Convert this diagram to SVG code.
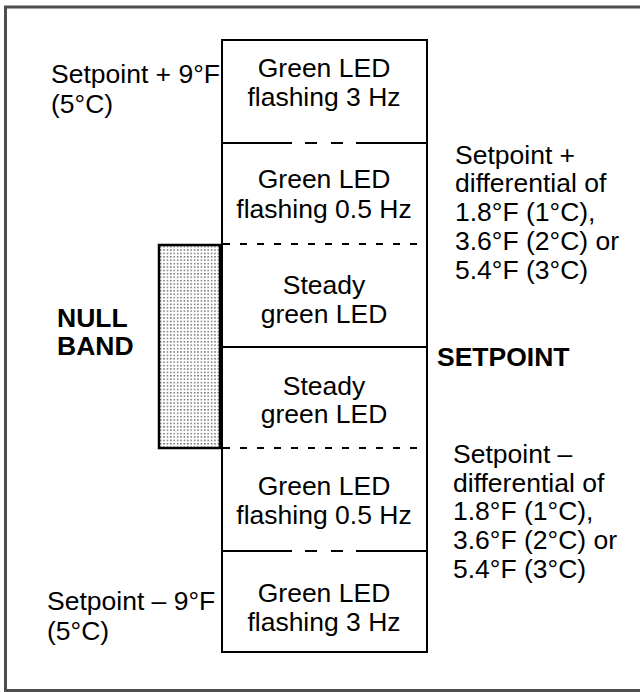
<svg xmlns="http://www.w3.org/2000/svg" width="640" height="692" viewBox="0 0 640 692">
<defs>
<pattern id="stipple" x="159" y="245" width="3.4" height="3.4" patternUnits="userSpaceOnUse">
<rect x="1" y="1" width="1.2" height="1.2" fill="#222"/>
</pattern>
</defs>
<style>
text{font-family:"Liberation Sans",Arial,sans-serif;font-size:26.5px;fill:#000}
.c{text-anchor:middle}
.b{font-weight:bold}
.solid{stroke:#000;stroke-width:2;fill:none}
.dash{stroke:#000;stroke-width:2;fill:none;stroke-dasharray:7 10}
</style>
<rect width="640" height="692" fill="#fff"/>
<path d="M640,7 H5.5 V690.5 H640" fill="none" stroke="#4d4d4d" stroke-width="3"/>

<g id="nullband">
<rect x="159" y="245" width="61" height="203" fill="url(#stipple)" stroke="#000" stroke-width="2.5"/>
<text class="b" x="57" y="327">NULL</text>
<text class="b" x="57" y="355">BAND</text>
</g>

<g id="column">
<rect x="222" y="40" width="205" height="612" class="solid"/>
</g>

<g id="dividers">
<path class="solid" d="M222,143 H292 M305,143 H317 M331,143 H343 M356,143 H427"/>
<path class="dash" d="M223,244 H427"/>
<path class="solid" d="M222,347 H427"/>
<path class="dash" d="M223,448 H427"/>
<path class="solid" d="M222,551 H292 M305,551 H317 M331,551 H343 M356,551 H427"/>
</g>

<g id="zone1">
<text class="c" x="324" y="77">Green LED</text>
<text class="c" x="324" y="106">flashing 3 Hz</text>
</g>
<g id="zone2">
<text class="c" x="324" y="188">Green LED</text>
<text class="c" x="324" y="218">flashing 0.5 Hz</text>
</g>
<g id="zone3">
<text class="c" x="324" y="294">Steady</text>
<text class="c" x="324" y="323">green LED</text>
</g>
<g id="zone4">
<text class="c" x="324" y="395">Steady</text>
<text class="c" x="324" y="423">green LED</text>
</g>
<g id="zone5">
<text class="c" x="324" y="495">Green LED</text>
<text class="c" x="324" y="524">flashing 0.5 Hz</text>
</g>
<g id="zone6">
<text class="c" x="324" y="602">Green LED</text>
<text class="c" x="324" y="631">flashing 3 Hz</text>
</g>

<g id="label-top-left">
<text x="51" y="83">Setpoint + 9°F</text>
<text x="51" y="113">(5°C)</text>
</g>
<g id="label-bottom-left">
<text x="47" y="610">Setpoint – 9°F</text>
<text x="47" y="640">(5°C)</text>
</g>
<g id="label-upper-right">
<text x="455" y="164">Setpoint +</text>
<text x="455" y="192">differential of</text>
<text x="455" y="221">1.8°F (1°C),</text>
<text x="455" y="250">3.6°F (2°C) or</text>
<text x="455" y="279">5.4°F (3°C)</text>
</g>
<g id="label-setpoint">
<text class="b" x="437" y="366">SETPOINT</text>
</g>
<g id="label-lower-right">
<text x="453" y="463">Setpoint –</text>
<text x="453" y="492">differential of</text>
<text x="453" y="520">1.8°F (1°C),</text>
<text x="453" y="549">3.6°F (2°C) or</text>
<text x="453" y="578">5.4°F (3°C)</text>
</g>
</svg>
